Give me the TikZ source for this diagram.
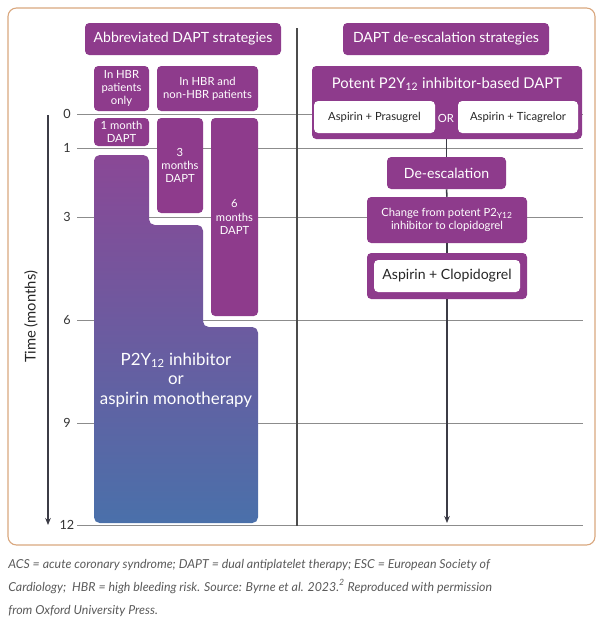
\documentclass[tikz,border=0pt]{standalone}
\usepackage{fontspec}
\setmainfont{Lato}
\usetikzlibrary{arrows.meta}
\definecolor{dapt}{HTML}{8E3B8C}
\definecolor{gradtop}{HTML}{8A4896}
\definecolor{gradbot}{HTML}{4A70AA}
\definecolor{framecol}{HTML}{D9A77E}
\definecolor{gridgray}{HTML}{8C8C8C}
\definecolor{axisgray}{HTML}{3C3C46}
\definecolor{captext}{HTML}{5A5A5A}

\begin{document}
\begin{tikzpicture}[x=0.025cm,y=0.025cm,
		box/.style={fill=dapt, rounded corners=3pt, text=white, align=center, inner sep=0pt},
		whitebox/.style={fill=white, rounded corners=3pt, text=black!85, align=center, inner sep=0pt},
		size/.style 2 args={minimum width=#1*0.025cm, minimum height=#2*0.025cm},
		gridline/.style={gridgray, line width=0.6pt},
		link/.style={axisgray, line width=1.1pt}]
		\useasboundingbox (0,0) rectangle (600,-621);
		\draw [framecol, line width=0.8pt, rounded corners=6pt] (8,-8) rectangle (595,-545);
		% time grid
		\foreach \m/\y in {0/114,1/148,3/217,6/320,9/423,12/525}{
			\node [font=\small, text=black!80] (t\m) at (67,-\y) {\m};
			\draw [gridline] (77,-\y) -- (583,-\y);
		}
		\draw [gridline, line width=0.8pt, black!70] (297,-28) -- (297,-526);
		\coordinate (axtop) at (48,-115);
		\coordinate (axbot) at (48,-525);
		\draw [axisgray, line width=1.2pt, -{Stealth[length=5pt,width=4pt]}] (axtop) -- (axbot);
		\node [rotate=90, font=\fontsize{10.5}{12}\selectfont, text=black!85] (timelbl) at (31,-317) {Time (months)};
		% abbreviated DAPT
		\node [box, size={196}{32}, font=\normalsize] (abbr) at (183,-39) {Abbreviated DAPT strategies};
		\node [box, size={55}{45}, font=\footnotesize] (hbronly) at (121.5,-88.5) {In HBR\\patients\\only};
		\node [box, size={101}{45}, font=\footnotesize] (hbrall) at (207.5,-88.5) {In HBR and\\non-HBR patients};
		\node [box, size={55}{28}, font=\footnotesize] (one) at (121.5,-132) {1 month\\DAPT};
		\node [box, size={46}{95}, font=\footnotesize] (three) at (180,-165.5) {3\\months\\DAPT};
		\node [box, size={47}{198}, font=\footnotesize] (six) at (234.5,-217) {6\\months\\DAPT};
		\shade [top color=gradtop, bottom color=gradbot, rounded corners=4pt]
			(94,-155) -- (149,-155) -- (149,-225) -- (203,-225) -- (203,-327)
			-- (258,-327) -- (258,-523) -- (94,-523) -- cycle;
		\node [text=white, align=center, font=\large] (mono) at (176,-380)
			{P2Y\textsubscript{12} inhibitor\\or\\aspirin monotherapy};
		% de-escalation
		\node [box, size={206}{32}, font=\normalsize] (deesc) at (446,-39) {DAPT de-escalation strategies};
		\node [box, size={270}{73}] (potent) at (447,-102.5) {};
		\node [text=white, font=\fontsize{10.5}{12}\selectfont] (potenttitle) at (447,-84) {Potent P2Y\textsubscript{12} inhibitor-based DAPT};
		\node [whitebox, size={121}{32}, font=\footnotesize] (prasu) at (374.5,-117) {Aspirin + Prasugrel};
		\node [text=white, font=\footnotesize] (or) at (446,-118) {OR};
		\node [whitebox, size={120}{32}, font=\footnotesize] (ticag) at (518,-117) {Aspirin + Ticagrelor};
		\node [box, size={119}{32}, font=\normalsize] (step) at (446.5,-173) {De-escalation};
		\node [box, size={160}{46}, font=\footnotesize] (change) at (447,-220)
			{Change from potent P2\textsubscript{Y12}\\inhibitor to clopidogrel};
		\node [box, size={160}{46}] (clopibox) at (447,-276) {};
		\node [whitebox, size={146}{32}, font=\normalsize] (clopi) at (447,-276) {Aspirin + Clopidogrel};
		\coordinate (end) at (447,-523);
		\draw [link] (potent.south -| step.north) -- (step.north);
		\draw [link] (step.south) -- (change.north);
		\draw [link] (change.south) -- (clopibox.north);
		\draw [link, -{Stealth[length=5pt,width=4pt]}] (clopibox.south) -- (end);
		% caption
		\node [anchor=north west, align=left, text=captext, font=\fontsize{8.8}{16.3}\selectfont\itshape, inner sep=0pt] (caption) at (8,-559)
			{ACS = acute coronary syndrome; DAPT = dual antiplatelet therapy; ESC = European Society of\\
			Cardiology;\ \ HBR = high bleeding risk. Source: Byrne et al. 2023.\textsuperscript{2} Reproduced with permission\\
			from Oxford University Press.};
	\end{tikzpicture}
\end{document}
